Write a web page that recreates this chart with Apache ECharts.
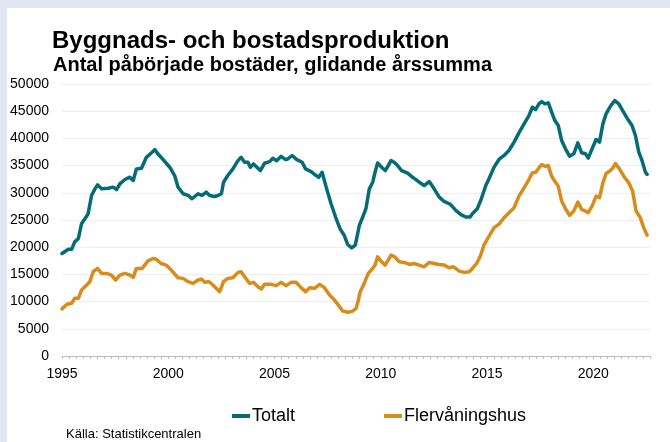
<!DOCTYPE html>
<html>
<head>
<meta charset="utf-8">
<script src="https://cdn.jsdelivr.net/npm/echarts@6/dist/echarts.min.js"></script>
<style>
  html, body { margin: 0; padding: 0; }
  body { width: 670px; height: 442px; background: #e0e7f2; position: relative; overflow: hidden; }
  #chart { position: absolute; left: 7px; top: 8px; width: 663px; height: 434px; background: #ffffff; }
</style>
</head>
<body>
<div id="chart"></div>
<script>
// ---- Data ----
const titleText = 'Byggnads- och bostadsproduktion';
const subtitleText = 'Antal påbörjade bostäder, glidande årssumma';
const sourceText = 'Källa: Statistikcentralen';
const seriesNames = ['Totalt', 'Flervåningshus'];
const yTicks = [0, 5000, 10000, 15000, 20000, 25000, 30000, 35000, 40000, 45000, 50000];
const xLabelYears = [1995, 2000, 2005, 2010, 2015, 2020];

const totaltYears = [
  1995.0, 1995.3, 1995.45, 1995.6, 1995.77, 1995.92, 1996.08, 1996.23, 1996.39, 1996.55,
  1996.67, 1996.86, 1997.17, 1997.41, 1997.57, 1997.72, 1997.96, 1998.19, 1998.35, 1998.5,
  1998.74, 1998.97, 1999.2, 1999.37, 1999.52, 1999.76, 2000.07, 2000.3, 2000.46, 2000.7,
  2000.93, 2001.12, 2001.4, 2001.59, 2001.79, 2001.95, 2002.18, 2002.34, 2002.5, 2002.6,
  2002.8, 2003.04, 2003.28, 2003.43, 2003.59, 2003.75, 2003.86, 2004.01, 2004.17, 2004.33,
  2004.53, 2004.77, 2004.92, 2005.1, 2005.31, 2005.52, 2005.62, 2005.83, 2006.05, 2006.3,
  2006.46, 2006.72, 2006.96, 2007.08, 2007.24, 2007.43, 2007.66, 2007.9, 2008.08, 2008.29,
  2008.44, 2008.63, 2008.8, 2008.99, 2009.15, 2009.3, 2009.46, 2009.62, 2009.73, 2009.85,
  2010.04, 2010.21, 2010.35, 2010.48, 2010.63, 2010.79, 2010.98, 2011.26, 2011.49, 2011.61,
  2011.81, 2012.04, 2012.28, 2012.51, 2012.75, 2012.98, 2013.22, 2013.32, 2013.53, 2013.77,
  2014.0, 2014.2, 2014.31, 2014.54, 2014.73, 2014.94, 2015.09, 2015.33, 2015.56, 2015.8,
  2016.03, 2016.27, 2016.5, 2016.74, 2016.97, 2017.13, 2017.29, 2017.44, 2017.57, 2017.72,
  2017.88, 2018.04, 2018.19, 2018.35, 2018.51, 2018.69, 2018.88, 2019.08, 2019.27, 2019.45,
  2019.63, 2019.76, 2019.94, 2020.13, 2020.29, 2020.45, 2020.6, 2020.73, 2020.85, 2021.01,
  2021.2, 2021.38, 2021.59, 2021.82, 2021.98, 2022.14, 2022.29, 2022.45, 2022.53
];
const totaltValues = [
  18840, 19630, 19600, 20980, 21600, 24330, 25240, 26160, 29510, 30730,
  31460, 30730, 30850, 31040, 30600, 31650, 32440, 32870, 32260, 34390,
  34510, 36520, 37320, 37930, 37130, 36100, 34700, 33170, 31040, 29820,
  29510, 28900, 29820, 29510, 30120, 29510, 29330, 29510, 29820, 31950,
  33170, 34390, 35910, 36520, 35610, 35610, 34700, 35300, 34700, 34090,
  35430, 35730, 36340, 35910, 36700, 36100, 36220, 36830, 36100, 35610,
  34390, 33900, 33170, 32870, 33780, 31040, 27990, 25240, 23410, 22100,
  20500, 19880, 20400, 24020, 25550, 27070, 30730, 31950, 33780, 35490,
  34700, 34090, 35000, 35910, 35610, 35000, 34090, 33600, 32870, 32560,
  31950, 31340, 32070, 30730, 29210, 28410, 27990, 27680, 26770, 25980,
  25550, 25550, 26160, 27070, 28900, 31340, 32580, 34720, 36130, 36860,
  37780, 39310, 41020, 42670, 44200, 45730, 45310, 46350, 46770, 46350,
  46530, 44820, 43290, 42370, 39610, 38080, 36740, 37170, 39190, 37350,
  37170, 36370, 38080, 39800, 39310, 42670, 44510, 45430, 46160, 46960,
  46350, 45120, 43710, 42370, 40530, 37470, 35940, 33800, 33400
];

const flerYears = [
  1995.0, 1995.23, 1995.45, 1995.6, 1995.77, 1995.92, 1996.16, 1996.31, 1996.47, 1996.67,
  1996.86, 1997.1, 1997.33, 1997.52, 1997.72, 1997.96, 1998.19, 1998.35, 1998.5, 1998.77,
  1999.05, 1999.28, 1999.43, 1999.66, 1999.9, 2000.14, 2000.46, 2000.7, 2000.93, 2001.17,
  2001.4, 2001.56, 2001.72, 2001.9, 2002.1, 2002.42, 2002.6, 2002.8, 2003.04, 2003.28,
  2003.43, 2003.59, 2003.83, 2004.01, 2004.22, 2004.38, 2004.53, 2004.85, 2005.08, 2005.31,
  2005.55, 2005.78, 2006.02, 2006.25, 2006.46, 2006.65, 2006.88, 2007.12, 2007.35, 2007.59,
  2007.82, 2008.02, 2008.2, 2008.44, 2008.65, 2008.83, 2008.93, 2009.03, 2009.22, 2009.41,
  2009.62, 2009.73, 2009.85, 2010.04, 2010.2, 2010.35, 2010.48, 2010.66, 2010.87, 2011.1,
  2011.34, 2011.57, 2011.81, 2012.04, 2012.28, 2012.51, 2012.75, 2012.98, 2013.22, 2013.42,
  2013.69, 2013.93, 2014.16, 2014.31, 2014.51, 2014.7, 2014.85, 2015.09, 2015.33, 2015.56,
  2015.8, 2016.03, 2016.27, 2016.5, 2016.74, 2016.97, 2017.13, 2017.29, 2017.44, 2017.57,
  2017.72, 2017.88, 2018.04, 2018.19, 2018.35, 2018.51, 2018.69, 2018.88, 2019.08, 2019.27,
  2019.45, 2019.63, 2019.76, 2019.94, 2020.13, 2020.29, 2020.45, 2020.6, 2020.76, 2020.92,
  2021.04, 2021.23, 2021.43, 2021.67, 2021.85, 2022.01, 2022.21, 2022.37, 2022.53
];
const flerValues = [
  8660, 9510, 9700, 10610, 10610, 12130, 13050, 13660, 15490, 16100,
  15180, 15180, 14880, 13960, 14880, 15180, 14880, 14450, 16100, 16100,
  17500, 17930, 17800, 17010, 16710, 15790, 14390, 14270, 13660, 13350,
  13960, 14150, 13540, 13700, 13050, 11830, 13660, 14270, 14390, 15370,
  15490, 14570, 13350, 13540, 12740, 12310, 13170, 13170, 12930, 13540,
  12930, 13540, 13540, 12560, 11830, 12560, 12440, 13170, 12560, 11220,
  10300, 9270, 8290, 8050, 8200, 8700, 10000, 11830, 13350, 15180,
  16100, 16710, 18230, 17320, 16710, 17620, 18540, 18230, 17320, 17200,
  16830, 17010, 16710, 16400, 17200, 17010, 16830, 16710, 16220, 16400,
  15610, 15370, 15490, 16100, 17010, 18540, 20370, 22000, 23600, 24210,
  25430, 26340, 27260, 29390, 30910, 32440, 33660, 33780, 34570, 35180,
  34880, 35000, 33050, 32130, 31220, 28480, 27070, 25850, 26650, 28290,
  26950, 26650, 26340, 27560, 29390, 29090, 31830, 33540, 33960, 34570,
  35370, 34390, 33050, 31830, 30300, 26650, 25430, 23600, 22200
];

// ---- Chart ----
const startYear = 1995;
const toMonths = y => (y - startYear) * 12;
const pairs = (xs, vs) => xs.map((x, i) => [toMonths(x), vs[i]]);

const FONT = '"Liberation Sans", Arial, sans-serif';
const TEAL = '#056b76';
const ORANGE = '#d98b1c';

const chart = echarts.init(document.getElementById('chart'), null, { renderer: 'canvas' });
chart.setOption({
  animation: false,
  backgroundColor: '#ffffff',
  textStyle: { fontFamily: FONT },
  title: [
    { text: titleText, left: 45, top: 21, padding: 0,
      textStyle: { fontFamily: FONT, fontSize: 24, fontWeight: 'bold', color: '#000' } },
    { text: subtitleText, left: 46, top: 47, padding: 0,
      textStyle: { fontFamily: FONT, fontSize: 20, fontWeight: 'bold', color: '#000' } }
  ],
  grid: { left: 55, right: 20, top: 76, height: 272, containLabel: false },
  xAxis: {
    type: 'value',
    min: 0,
    max: 332,
    interval: 4,
    axisLine: { show: true, lineStyle: { color: '#bfbfbf', width: 1 } },
    axisTick: { show: true, length: 3, lineStyle: { color: '#bfbfbf' } },
    splitLine: { show: false },
    axisLabel: {
      margin: 11,
      fontSize: 14,
      fontFamily: FONT,
      color: '#000',
      formatter: v => {
        const yr = startYear + v / 12;
        return (v % 12 === 0 && xLabelYears.indexOf(yr) >= 0) ? String(yr) : '';
      }
    }
  },
  yAxis: {
    type: 'value',
    min: yTicks[0],
    max: yTicks[yTicks.length - 1],
    interval: yTicks[1] - yTicks[0],
    axisLine: { show: false },
    axisTick: { show: false },
    splitLine: { show: true, lineStyle: { color: '#eeeeee', width: 1 } },
    axisLabel: { margin: 13, fontSize: 14, fontFamily: FONT, color: '#000',
      formatter: v => String(v) }
  },
  legend: {
    data: seriesNames,
    left: 220,
    top: 394,
    icon: 'rect',
    itemWidth: 18,
    itemHeight: 4,
    itemGap: 89,
    textStyle: { fontFamily: FONT, fontSize: 18, color: '#000', padding: [0, 0, 0, -3] }
  },
  graphic: [
    { type: 'text', left: 59, top: 420,
      style: { text: sourceText, fontFamily: FONT, fontSize: 13, fill: '#000' } }
  ],
  series: [
    { name: seriesNames[0], type: 'line', data: pairs(totaltYears, totaltValues),
      showSymbol: false, symbol: 'none', color: TEAL,
      lineStyle: { color: TEAL, width: 3.5, join: 'round', cap: 'round' } },
    { name: seriesNames[1], type: 'line', data: pairs(flerYears, flerValues),
      showSymbol: false, symbol: 'none', color: ORANGE,
      lineStyle: { color: ORANGE, width: 3.5, join: 'round', cap: 'round' } }
  ]
});
</script>
</body>
</html>
